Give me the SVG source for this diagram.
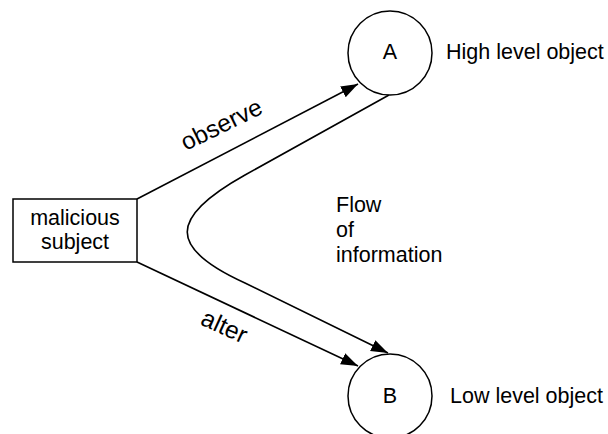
<svg xmlns="http://www.w3.org/2000/svg" width="608" height="434" viewBox="0 0 608 434">
<style>
text{font-family:"Liberation Sans",Arial,sans-serif;font-size:21.5px;fill:#000}
.edge-label{font-size:24.5px}
.shape{fill:#fff;stroke:#000;stroke-width:1.5}
.conn{fill:none;stroke:#000;stroke-width:1.6}
</style>
<defs>
<marker id="arr" markerUnits="userSpaceOnUse" markerWidth="20" markerHeight="14" refX="17" refY="6" orient="auto">
<path d="M0,0 L17,6 L0,12 Z" fill="#000"/>
</marker>
</defs>
<rect width="608" height="434" fill="#fff"/>
<g id="connectors">
<path class="conn" d="M137,199 L358,84" marker-end="url(#arr)"/>
<path class="conn" d="M137,262 L358,366" marker-end="url(#arr)"/>
<path class="conn" d="M389,95 L245,175 C168,218 168,248 245,283 L388,353" marker-end="url(#arr)"/>
<text class="edge-label" transform="translate(225,132) rotate(-26)" text-anchor="middle">observe</text>
<text class="edge-label" transform="translate(221,334) rotate(24.5)" text-anchor="middle">alter</text>
</g>
<g id="subject">
<rect class="shape" x="13" y="199" width="124" height="63"/>
<text x="75" y="225" text-anchor="middle">malicious</text>
<text x="75" y="249" text-anchor="middle">subject</text>
</g>
<g id="nodeA">
<circle class="shape" cx="390" cy="53" r="42"/>
<text x="390" y="59" text-anchor="middle">A</text>
</g>
<g id="nodeB">
<circle class="shape" cx="390" cy="396" r="42"/>
<text x="390" y="403" text-anchor="middle">B</text>
</g>
<g id="labelA"><text x="446" y="59">High level object</text></g>
<g id="labelB"><text x="450" y="403">Low level object</text></g>
<g id="flowLabel">
<text x="336" y="212">Flow</text>
<text x="336" y="237">of</text>
<text x="336" y="262">information</text>
</g>
</svg>
